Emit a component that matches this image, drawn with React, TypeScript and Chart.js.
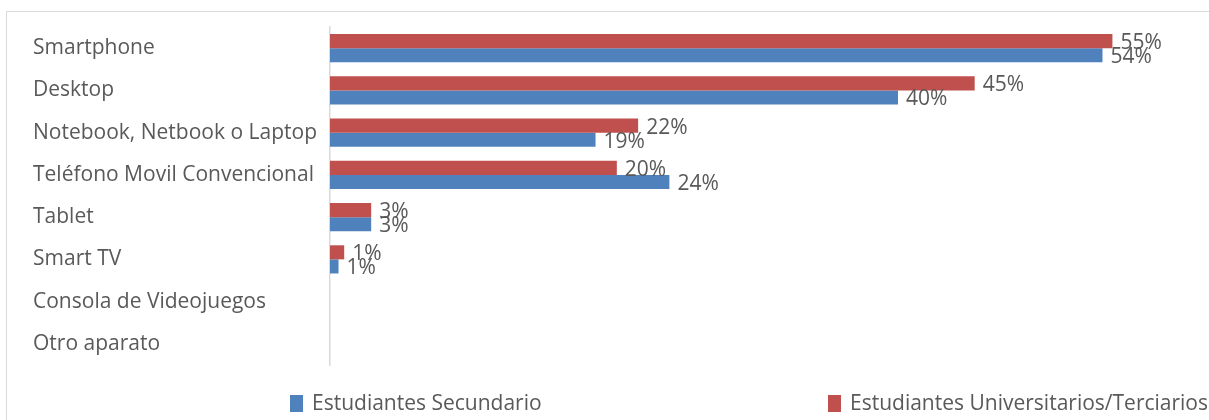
import React, { useEffect, useRef } from "react";
import { Chart, registerables } from "chart.js";

Chart.register(...registerables);

const categories = [
  "Smartphone",
  "Desktop",
  "Notebook, Netbook o Laptop",
  "Teléfono Movil Convencional",
  "Tablet",
  "Smart TV",
  "Consola de Videojuegos",
  "Otro aparato",
];

const seriesNames = ["Estudiantes Secundario", "Estudiantes Universitarios/Terciarios"];

// percentages
const secundario = [54.4, 40.0, 18.7, 23.9, 2.9, 0.6, 0, 0];
const universitarios = [55.1, 45.4, 21.7, 20.2, 2.9, 1.0, 0, 0];

const BLUE = "#4F81BD";
const RED = "#C0504D";
const FONT = "'Open Sans', 'Noto Sans', sans-serif";
const TEXT = "#595959";

const framePlugin = {
  id: "frame",
  beforeDraw(chart: any) {
    const { ctx, width, height } = chart;
    ctx.save();
    ctx.fillStyle = "#ffffff";
    ctx.fillRect(0, 0, width, height);
    ctx.strokeStyle = "#d9d9d9";
    ctx.lineWidth = 1;
    ctx.beginPath();
    ctx.moveTo(6.5, height);
    ctx.lineTo(6.5, 11.5);
    ctx.lineTo(width, 11.5);
    ctx.stroke();
    ctx.restore();
  },
};

const valueLabelPlugin = {
  id: "valueLabels",
  afterDatasetsDraw(chart: any) {
    const { ctx } = chart;
    ctx.save();
    ctx.font = `21px ${FONT}`;
    ctx.fillStyle = TEXT;
    ctx.textAlign = "left";
    ctx.textBaseline = "middle";
    chart.data.datasets.forEach((ds: any, di: number) => {
      const meta = chart.getDatasetMeta(di);
      meta.data.forEach((bar: any, i: number) => {
        const v = ds.data[i];
        if (!v) return;
        ctx.fillText(`${Math.round(v)}%`, bar.x + 8, bar.y + 2);
      });
    });
    ctx.restore();
  },
};

const legendPlugin = {
  id: "customLegend",
  afterDraw(chart: any) {
    const { ctx, width } = chart;
    const items = [
      { label: seriesNames[0], color: BLUE, x: 290 },
      { label: seriesNames[1], color: RED, x: 828 },
    ];
    const y = 403;
    ctx.save();
    ctx.font = `21px ${FONT}`;
    ctx.textAlign = "left";
    ctx.textBaseline = "middle";
    items.forEach((it) => {
      const x = (it.x / 1209) * width;
      ctx.fillStyle = it.color;
      ctx.fillRect(x, y - 8, 13, 17);
      ctx.fillStyle = TEXT;
      ctx.fillText(it.label, x + 22, y + 1);
    });
    ctx.restore();
  },
};

export default function App() {
  const canvasRef = useRef<HTMLCanvasElement | null>(null);

  useEffect(() => {
    if (!canvasRef.current) return;
    const chart = new Chart(canvasRef.current, {
      type: "bar",
      data: {
        labels: categories,
        datasets: [
          {
            label: seriesNames[1],
            data: universitarios,
            backgroundColor: RED,
            borderWidth: 0,
            categoryPercentage: 0.667,
            barPercentage: 1,
          },
          {
            label: seriesNames[0],
            data: secundario,
            backgroundColor: BLUE,
            borderWidth: 0,
            categoryPercentage: 0.667,
            barPercentage: 1,
          },
        ],
      },
      options: {
        indexAxis: "y",
        animation: false,
        responsive: false,
        maintainAspectRatio: false,
        layout: { padding: { left: 33, top: 27, right: 27, bottom: 55 } },
        plugins: {
          legend: { display: false },
          tooltip: { enabled: false },
          title: { display: false },
        },
        scales: {
          x: {
            display: false,
            min: 0,
            max: 60,
          },
          y: {
            grid: { display: false },
            border: { display: true, color: "#d9d9d9", width: 1.5 },
            ticks: {
              crossAlign: "far",
              color: TEXT,
              font: { family: FONT, size: 21 },
              padding: 0,
            },
            afterFit(scale: any) {
              scale.width = 297;
            },
          },
        },
      },
      plugins: [framePlugin, valueLabelPlugin, legendPlugin],
    });
    return () => chart.destroy();
  }, []);

  return (
    <div style={{ position: "fixed", left: 0, top: 0, width: 1209, height: 420, background: "#fff" }}>
      <canvas ref={canvasRef} width={1209} height={420} />
    </div>
  );
}
